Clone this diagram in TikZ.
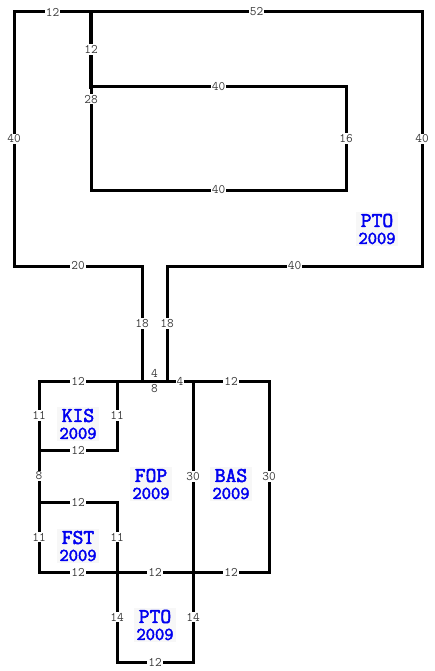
\documentclass[tikz,border=0pt]{standalone}
\usepackage{fontspec}
\newfontfamily\roomfont{Latin Modern Mono}[FakeBold=2.5]
\usepackage{tikz}
\usetikzlibrary{positioning}
\definecolor{roomtext}{RGB}{0,0,240}
\definecolor{dimtext}{RGB}{60,60,60}
\definecolor{roomfill}{RGB}{247,247,247}
\tikzset{
    wall/.style={line width=3pt, line cap=rect, black},
    dim/.style={fill=white, inner sep=1pt, text=dimtext, font=\ttfamily\fontsize{13}{13}\selectfont},
    room/.style={fill=roomfill, inner sep=2pt, text=roomtext, align=center, font=\roomfont\fontsize{18}{17}\selectfont}
}

\begin{document}
\begin{tikzpicture}[
    x=1pt, y=-1pt,
    thickwall/.style={wall, line width=4pt}
]
    \useasboundingbox (0,0) rectangle (435,671);

    % Upper level corners
    \coordinate (tl) at (14,12);
    \coordinate (tj) at (91,12);
    \coordinate (tr) at (422,12);
    \coordinate (ij) at (91,87);
    \coordinate (ir) at (346,87);
    \coordinate (ibl) at (91,190);
    \coordinate (ibr) at (346,190);
    \coordinate (bl) at (14,266);
    \coordinate (lj) at (142,266);
    \coordinate (rj) at (167,266);
    \coordinate (br) at (422,266);
    \coordinate (ld) at (142,381);
    \coordinate (rd) at (167,381);

    % Lower level corners
    \coordinate (a1) at (39,381);
    \coordinate (a2) at (117,381);
    \coordinate (a5) at (193,381);
    \coordinate (a6) at (269,381);
    \coordinate (k1) at (39,450);
    \coordinate (k2) at (117,450);
    \coordinate (f1) at (39,502);
    \coordinate (f2) at (117,502);
    \coordinate (g1) at (39,572);
    \coordinate (g2) at (117,572);
    \coordinate (g3) at (193,572);
    \coordinate (g4) at (269,572);
    \coordinate (p1) at (117,662);
    \coordinate (p2) at (193,662);

    % Upper walls
    \draw[wall] (tl) -- node[dim] {12} (tj);
    \draw[wall] (tj) -- node[dim] {52} (tr);
    \draw[wall] (tl) -- node[dim] {40} (bl);
    \draw[wall] (tr) -- node[dim] {40} (br);
    \draw[wall] (bl) -- node[dim] {20} (lj);
    \draw[wall] (rj) -- node[dim] {40} (br);
    \draw[wall] (lj) -- node[dim] {18} (ld);
    \draw[wall] (rj) -- node[dim] {18} (rd);
    \draw[thickwall] (tj) -- node[dim] {12} (ij);
    \draw[wall] (ij) -- node[dim] {40} (ir);
    \draw[wall] (ir) -- node[dim] {16} (ibr);
    \draw[wall] (ibl) -- node[dim] {40} (ibr);
    \draw[wall] (ij) -- node[dim, pos=0.12] {28} (ibl);

    % Lower walls
    \draw[wall] (a1) -- node[dim] {12} (a2);
    \draw[wall] (a2) -- (ld);
    \draw[wall] (ld) -- node[dim, above=1pt, fill=none] {4} node[dim, below=1pt, fill=none] {8} (rd);
    \draw[wall] (rd) -- node[dim] {4} (a5);
    \draw[wall] (a5) -- node[dim] {12} (a6);
    \draw[wall] (a1) -- node[dim] {11} (k1);
    \draw[wall] (a2) -- node[dim] {11} (k2);
    \draw[wall] (k1) -- node[dim] {12} (k2);
    \draw[wall] (k1) -- node[dim] {8} (f1);
    \draw[wall] (f1) -- node[dim] {12} (f2);
    \draw[wall] (f1) -- node[dim] {11} (g1);
    \draw[wall] (f2) -- node[dim] {11} (g2);
    \draw[wall] (g1) -- node[dim] {12} (g2);
    \draw[wall] (g2) -- node[dim] {12} (g3);
    \draw[wall] (g3) -- node[dim] {12} (g4);
    \draw[wall] (a5) -- node[dim] {30} (g3);
    \draw[wall] (a6) -- node[dim] {30} (g4);
    \draw[wall] (g2) -- node[dim] {14} (p1);
    \draw[wall] (g3) -- node[dim] {14} (p2);
    \draw[wall] (p1) -- node[dim] {12} (p2);

    % Rooms
    \node[room] (ptoup) at (377,229) {{\fontsize{21}{17}\selectfont PTO}\\2009};
    \node[room] (kis) at (78,424) {{\fontsize{21}{17}\selectfont KIS}\\2009};
    \node[room] (fop) at (151,484) {{\fontsize{21}{17}\selectfont FOP}\\2009};
    \node[room] (bas) at (231,484) {{\fontsize{21}{17}\selectfont BAS}\\2009};
    \node[room] (fst) at (78,546) {{\fontsize{21}{17}\selectfont FST}\\2009};
    \node[room] (ptolow) at (155,625) {{\fontsize{21}{17}\selectfont PTO}\\2009};
\end{tikzpicture}
\end{document}
